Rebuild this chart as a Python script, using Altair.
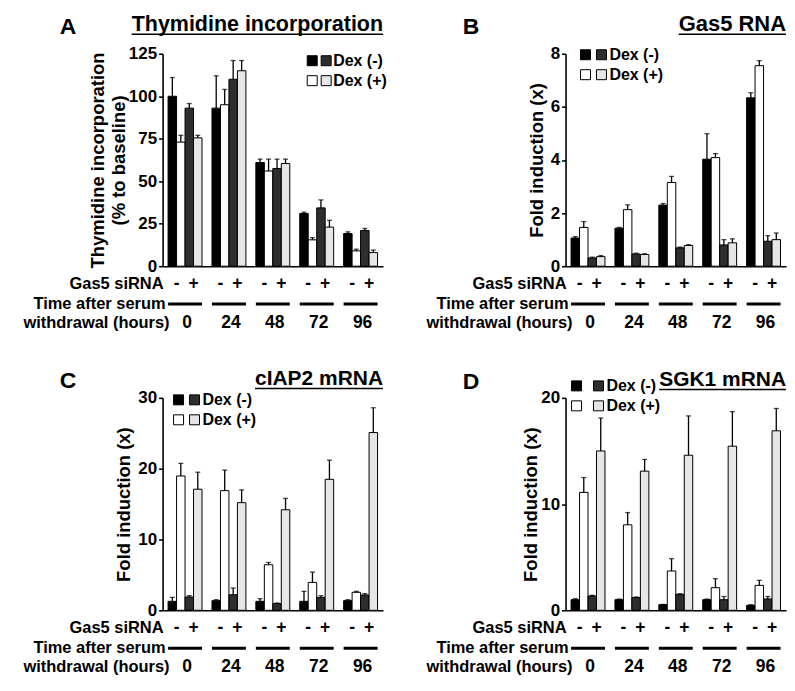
import altair as alt
import pandas as pd

times = ["0", "24", "48", "72", "96"]
conds = ["Dex(-) siRNA(-)", "Dex(+) siRNA(-)", "Dex(-) siRNA(+)", "Dex(+) siRNA(+)"]
fills = ["#000000", "#ffffff", "#2e2e2e", "#e6e6e6"]

# Panel A: Thymidine incorporation (% to baseline)
thy_mean_a = [100, 93, 61, 31, 19.2]
thy_mean_b = [73, 95, 56, 15.5, 9]
thy_mean_c = [93, 110, 57.5, 34.3, 21]
thy_mean_d = [75.5, 115, 60.4, 23, 8]
thy_err_a = [11, 19, 2, 0.8, 1]
thy_err_b = [4, 9, 7, 1.3, 1]
thy_err_c = [2.7, 11, 5.5, 4.7, 1.2]
thy_err_d = [1.5, 6, 2.6, 4, 1.5]

# Panel B: Gas5 RNA fold induction
gas_mean_a = [1.06, 1.43, 2.3, 4.03, 6.34]
gas_mean_b = [1.46, 2.13, 3.15, 4.09, 7.55]
gas_mean_c = [0.31, 0.46, 0.69, 0.8, 0.94]
gas_mean_d = [0.36, 0.44, 0.78, 0.88, 1.0]
gas_err_a = [0.05, 0.03, 0.06, 0.96, 0.19]
gas_err_b = [0.22, 0.18, 0.23, 0.15, 0.19]
gas_err_c = [0.03, 0.03, 0.03, 0.2, 0.21]
gas_err_d = [0.04, 0.03, 0.03, 0.15, 0.25]

# Panel C: cIAP2 mRNA fold induction
ciap_mean_a = [1.27, 1.36, 1.27, 1.27, 1.36]
ciap_mean_b = [18.97, 16.9, 6.43, 3.94, 2.54]
ciap_mean_c = [1.88, 2.2, 0.94, 1.83, 2.16]
ciap_mean_d = [17.1, 15.2, 14.2, 18.5, 25.1]
ciap_err_a = [0.56, 0.14, 0.37, 1.41, 0.14]
ciap_err_b = [1.78, 2.9, 0.33, 1.46, 0.14]
ciap_err_c = [0.19, 0.95, 0.09, 0.24, 0.19]
ciap_err_d = [2.4, 1.8, 1.6, 2.7, 3.5]

# Panel D: SGK1 mRNA fold induction
sgk_mean_a = [1.0, 1.0, 0.53, 1.0, 0.47]
sgk_mean_b = [11.1, 8.05, 3.7, 2.13, 2.35]
sgk_mean_c = [1.35, 1.2, 1.5, 1.0, 1.07]
sgk_mean_d = [15.0, 13.1, 14.6, 15.45, 16.9]
sgk_err_a = [0.1, 0.06, 0.03, 0.06, 0.06]
sgk_err_b = [1.4, 1.15, 1.16, 0.85, 0.47]
sgk_err_c = [0.06, 0.05, 0.06, 0.3, 0.23]
sgk_err_d = [3.1, 1.1, 3.7, 3.25, 2.1]

W, H = 221, 213
FONT = "Liberation Sans"
LBL = 16.5

CW = {" ": 278, "(": 333, ")": 333, "0": 556, "1": 556, "2": 556, "5": 556,
      "A": 722, "C": 722, "G": 778, "I": 278, "K": 722, "M": 833, "N": 722,
      "P": 667, "R": 722, "S": 667, "T": 611, "a": 556, "c": 556, "d": 611,
      "e": 556, "h": 611, "i": 278, "m": 889, "n": 611, "o": 611, "p": 611,
      "r": 389, "t": 333, "y": 556, "s": 556}


def text_width(s, size):
    return sum(CW.get(ch, 556) for ch in s) / 1000.0 * size


one = pd.DataFrame({"k": [0]})


def label(txt, x, y, size, align="left", baseline="alphabetic"):
    return alt.Chart(one).mark_text(
        text=txt, font=FONT, fontWeight="bold", fontSize=size, color="black",
        align=align, baseline=baseline
    ).encode(x=alt.value(x), y=alt.value(y))


def square(x, y, fill):
    return alt.Chart(one).mark_rect(fill=fill, stroke="black", strokeWidth=1).encode(
        x=alt.value(x), x2=alt.value(x + 10), y=alt.value(y - 5), y2=alt.value(y + 5))


def panel(means, errs, ymax, ticks, ytitle, tpad, title, title_size, letter,
          title_base, letter_base, leg):
    rows = []
    for ci, c in enumerate(conds):
        for ti, t in enumerate(times):
            m = means[ci][ti]
            e = errs[ci][ti]
            rows.append({"time": t, "cond": c, "mean": m, "top": m + e})
    df = pd.DataFrame(rows)
    tdf = pd.DataFrame({"time": times})

    x = alt.X("time:N", sort=times,
              scale=alt.Scale(paddingInner=0.227, paddingOuter=0.125),
              axis=alt.Axis(title=None, labels=False, ticks=False,
                            domainColor="black", domainWidth=1.6))
    xo = alt.XOffset("cond:N", sort=conds,
                     scale=alt.Scale(paddingInner=0, paddingOuter=0))
    yaxis = alt.Axis(values=ticks, title=ytitle, grid=False, tickSize=4,
                     tickColor="black", tickWidth=1.6, domainColor="black",
                     domainWidth=1.6, labelFont=FONT, labelFontSize=17,
                     labelFontWeight="bold", labelColor="black", labelPadding=2,
                     titleFont=FONT, titleFontSize=18.5, titleFontWeight="bold",
                     titleColor="black", titlePadding=tpad)
    yscale = alt.Scale(domain=[0, ymax], nice=False, zero=True)

    base = alt.Chart(df)
    bars = base.mark_bar(stroke="black", strokeWidth=1).encode(
        x=x, xOffset=xo,
        y=alt.Y("mean:Q", scale=yscale, axis=yaxis),
        fill=alt.Fill("cond:N", scale=alt.Scale(domain=conds, range=fills), legend=None))
    err = base.mark_rule(color="black", strokeWidth=1.3).encode(
        x=x, xOffset=xo,
        y=alt.Y("mean:Q", scale=yscale, axis=yaxis), y2="top:Q")
    cap = base.mark_tick(color="black", thickness=1.3, size=5).encode(
        x=x, xOffset=xo, y=alt.Y("top:Q", scale=yscale, axis=yaxis))

    tb = alt.Chart(tdf)
    minus = tb.mark_text(text="-", font=FONT, fontWeight="bold", fontSize=LBL + 1,
                         color="black", dx=-8.5, baseline="middle").encode(
        x=x, y=alt.value(H + 18))
    plus = tb.mark_text(text="+", font=FONT, fontWeight="bold", fontSize=LBL + 1,
                        color="black", dx=8.5, baseline="middle").encode(
        x=x, y=alt.value(H + 18))
    lines = tb.mark_rect(color="black").encode(
        x=x, y=alt.value(H + 36.5), y2=alt.value(H + 39.5))
    tlab = tb.mark_text(font=FONT, fontWeight="bold", fontSize=LBL + 1, color="black",
                        baseline="middle", dx=2).encode(
        x=x, y=alt.value(H + 57), text="time:N")

    layers = [bars, err, cap, minus, plus, lines, tlab,
              label("Gas5 siRNA", 1, H + 18, LBL, "right", "middle"),
              label("Time after serum", 3, H + 38, LBL, "right", "middle"),
              label("withdrawal (hours)", 7, H + 57, LBL, "right", "middle"),
              label(title, W, title_base, title_size, "right"),
              alt.Chart(one).mark_rule(color="black", strokeWidth=1.5).encode(
                  x=alt.value(W - text_width(title, title_size)), x2=alt.value(W),
                  y=alt.value(title_base + 3.5)),
              label(letter, -103, letter_base, 23, "left")]

    lx, sx2, tx, ly = leg
    layers += [square(lx, ly, fills[0]), square(sx2, ly, fills[2]),
               square(lx, ly + 20, fills[1]), square(sx2, ly + 20, fills[3]),
               label("Dex (-)", tx, ly, 16, "left", "middle"),
               label("Dex (+)", tx, ly + 20, 16, "left", "middle")]
    return alt.layer(*layers).properties(width=W, height=H)


pA = panel([thy_mean_a, thy_mean_b, thy_mean_c, thy_mean_d],
           [thy_err_a, thy_err_b, thy_err_c, thy_err_d],
           125, [0, 25, 50, 75, 100, 125],
           ["Thymidine incorporation", "(% to baseline)"], 0,
           "Thymidine incorporation", 21.5, "A", -23, -20, (145, 159, 171, 7))
pB = panel([gas_mean_a, gas_mean_b, gas_mean_c, gas_mean_d],
           [gas_err_a, gas_err_b, gas_err_c, gas_err_d],
           8, [0, 2, 4, 6, 8], "Fold induction (x)", 4,
           "Gas5 RNA", 22, "B", -23, -20, (15, 31, 44, 1))
pC = panel([ciap_mean_a, ciap_mean_b, ciap_mean_c, ciap_mean_d],
           [ciap_err_a, ciap_err_b, ciap_err_c, ciap_err_d],
           30, [0, 10, 20, 30], "Fold induction (x)", 4,
           "cIAP2 mRNA", 21, "C", -13, -10, (11, 27, 40, 2))
pD = panel([sgk_mean_a, sgk_mean_b, sgk_mean_c, sgk_mean_d],
           [sgk_err_a, sgk_err_b, sgk_err_c, sgk_err_d],
           20, [0, 10, 20], "Fold induction (x)", 0,
           "SGK1 mRNA", 21, "D", -12, -9, (6, 28, 41, -12))

chart = alt.concat(pA, pB, pC, pD, columns=2,
                   spacing={"row": 132, "column": 183},
                   bounds="flush").properties(
    padding={"left": 15, "top": 4, "right": 0, "bottom": 0}
).configure_view(stroke=None)

chart.save("out.html", embed_options={"renderer": "svg", "actions": False})
